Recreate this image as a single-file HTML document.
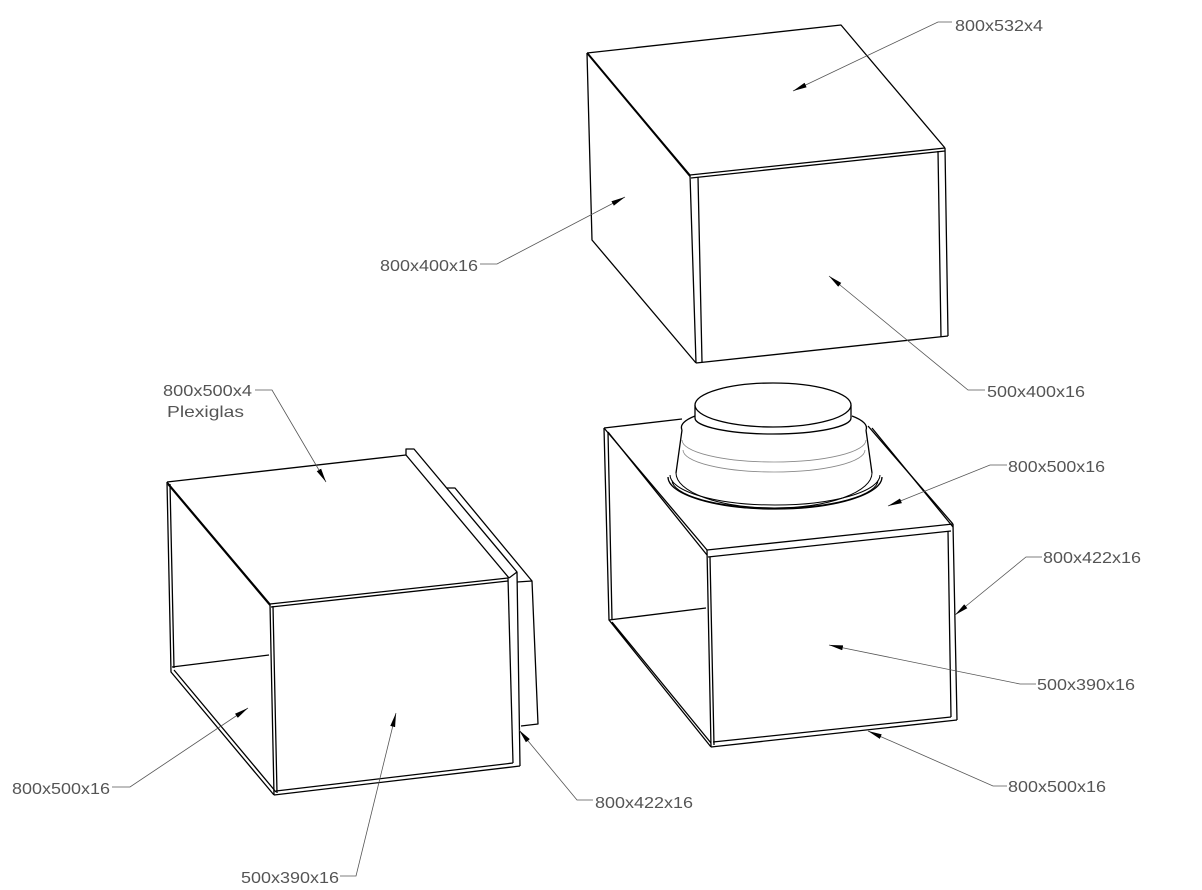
<!DOCTYPE html>
<html><head><meta charset="utf-8"><style>
html,body{margin:0;padding:0;background:#fff;}
svg{display:block;}
text{font-family:"Liberation Sans",sans-serif;font-size:16px;fill:#555;}
</style></head><body>
<svg width="1202" height="890" viewBox="0 0 1202 890" xmlns="http://www.w3.org/2000/svg">
<defs>
<marker id="a" viewBox="0 0 14 6" refX="14" refY="3" markerWidth="14" markerHeight="6" markerUnits="userSpaceOnUse" orient="auto">
<path d="M0,0.5 L14,3 L0,5.5 Z" fill="#000"/>
</marker>
</defs>
<g fill="none" stroke="#000" stroke-width="1.3" stroke-linejoin="round">
<!-- TOP BOX -->
<path d="M587,53 L841,25 L945,148 M587,53 L690,175" />
<path d="M587,53 L588,54 L690,176" stroke-width="2"/>
<path d="M690,175 L945,148 M691,178 L945,151"/>
<path d="M587,53 L592,240 L696,363"/>
<path d="M690,175 L696,363 M698,177 L702,362"/>
<path d="M945,148 L948,336 M938,151 L941,337"/>
<path d="M696,363 L948,336"/>

<!-- LEFT BOX -->
<path d="M167,482 L406,455 M167,482 L270,604" />
<path d="M168,484 L270,605" stroke-width="2"/>
<path d="M270,604 L508,578 M271,607 L508,581"/>
<path d="M167,482 L171,672 L274,795 M170,484 L174,668 M174,670 L276,792"/>
<path d="M172,667 L269,655"/>
<path d="M270,604 L274,795 M273,606 L277,793"/>
<path d="M274,795 L520,766 M276,791 L513,763"/>
<path d="M508,578 L513,763"/>
<!-- rib -->
<path d="M406,455 L406,449 L414,449 L517,572 L520,766 M406,455 L509,578"/>
<path d="M509,578 L517,572"/>
<!-- back plate -->
<path d="M447,488 L455,488 L532,581 L538,724 L521,726 M517,582 L532,581"/>

<!-- RIGHT BOX -->
<path d="M604,428 L682,419 M868,426 L953,524 M604,428 L707,550"/>
<path d="M608,432 L707,555 M872,428 L953,527"/>
<path d="M707,550 L953,524 M708,557 L951,531"/>
<path d="M604,428 L609,620 L711,747 M608,432 L612,620 M612,622 L711,743"/>
<path d="M609,620 L706,608"/>
<path d="M707,550 L711,747 M710,557 L714,745"/>
<path d="M953,524 L957,720 M948,531 L951,717"/>
<path d="M711,747 L957,720 M713,742 L951,717"/>
<!-- cylinder -->
<path d="M668,477 A107,32 0 0,0 882,477"/>
<path d="M670,475 A105,30 0 0,0 880,475 M672,480 A103,28 0 0,0 878,480" stroke-width="1"/>
<path d="M676,473 L682,430 M872,473 L866,430" />
<path d="M676,473 A98,35 0 0,0 872,473" stroke-width="1"/>
<path d="M682,430 A92,22 0 0,1 695,416 M866,430 A92,22 0 0,0 852,416"/>
<path d="M682,440 A92,22 0 0,0 866,440 M683,450 A91,22 0 0,0 865,450" stroke="#888" stroke-width="0.8"/>
<path d="M695,418 A78,16 0 0,0 851,418"/>
<path d="M695,405 L695,418 M851,405 L851,418"/>
<ellipse cx="773" cy="405" rx="78" ry="22" fill="#fff"/>
</g>

<!-- LEADERS -->
<g fill="none" stroke="#555" stroke-width="0.8">
<polyline points="952,22 938,22 793,91" marker-end="url(#a)"/>
<polyline points="480,264 497,264 625,197" marker-end="url(#a)"/>
<polyline points="985,390 968,390 829,276" marker-end="url(#a)"/>
<polyline points="255,390 272,390 326,482" marker-end="url(#a)"/>
<polyline points="1007,465 990,465 888,506" marker-end="url(#a)"/>
<polyline points="1042,557 1026,557 955,615" marker-end="url(#a)"/>
<polyline points="1036,684 1020,684 829,645" marker-end="url(#a)"/>
<polyline points="1007,786 993,786 868,731" marker-end="url(#a)"/>
<polyline points="112,787 130,787 248,708" marker-end="url(#a)"/>
<polyline points="593,800 577,800 519,730" marker-end="url(#a)"/>
<polyline points="340,876 356,876 396,713" marker-end="url(#a)"/>
</g>

<g>
<text x="955" y="31" textLength="88" lengthAdjust="spacingAndGlyphs">800x532x4</text>
<text x="380" y="271" textLength="98" lengthAdjust="spacingAndGlyphs">800x400x16</text>
<text x="987" y="397" textLength="98" lengthAdjust="spacingAndGlyphs">500x400x16</text>
<text x="163" y="396" textLength="89" lengthAdjust="spacingAndGlyphs">800x500x4</text>
<text x="167" y="417" textLength="77" lengthAdjust="spacingAndGlyphs">Plexiglas</text>
<text x="1008" y="472" textLength="97" lengthAdjust="spacingAndGlyphs">800x500x16</text>
<text x="1043" y="563" textLength="98" lengthAdjust="spacingAndGlyphs">800x422x16</text>
<text x="1037" y="690" textLength="98" lengthAdjust="spacingAndGlyphs">500x390x16</text>
<text x="1008" y="792" textLength="98" lengthAdjust="spacingAndGlyphs">800x500x16</text>
<text x="12" y="794" textLength="98" lengthAdjust="spacingAndGlyphs">800x500x16</text>
<text x="595" y="808" textLength="98" lengthAdjust="spacingAndGlyphs">800x422x16</text>
<text x="241" y="883" textLength="98" lengthAdjust="spacingAndGlyphs">500x390x16</text>
</g>
</svg>
</body></html>
